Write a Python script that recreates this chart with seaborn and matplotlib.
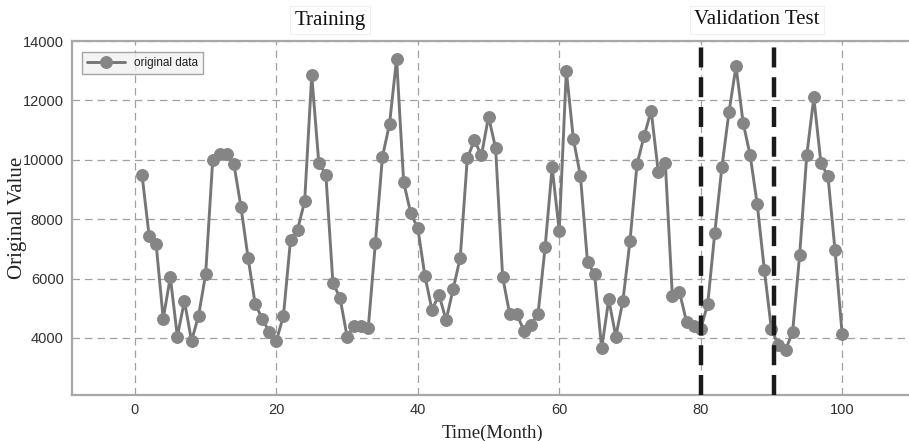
import matplotlib
matplotlib.use("Agg")
import matplotlib.pyplot as plt
import seaborn as sns
import pandas as pd

months = list(range(1, 101))
values = [9500, 7450, 7150, 4650, 6050, 4050, 5250, 3900, 4750, 6150,
          10000, 10200, 10200, 9850, 8400, 6700, 5150, 4650, 4200, 3900,
          4750, 7300, 7650, 8600, 12850, 9900, 9500, 5850, 5350, 4050,
          4400, 4400, 4350, 7200, 10100, 11200, 13400, 9250, 8200, 7700,
          6100, 4950, 5450, 4600, 5650, 6700, 10050, 10650, 10150, 11450,
          10400, 6050, 4800, 4800, 4250, 4450, 4800, 7050, 9750, 7600,
          13000, 10700, 9450, 6550, 6150, 3650, 5300, 4050, 5250, 7250,
          9850, 10800, 11650, 9600, 9900, 5400, 5550, 4550, 4400, 4300,
          5150, 7550, 9750, 11600, 13150, 11250, 10150, 8500, 6300, 4300,
          3750, 3600, 4200, 6800, 10150, 12100, 9900, 9450, 6950, 4150]
split_lines = [80, 90.3]
x_ticks = [0, 20, 40, 60, 80, 100]
y_ticks = [4000, 6000, 8000, 10000, 12000, 14000]

df = pd.DataFrame({"month": months, "value": values})

sns.set_style("white")
fig = plt.figure(figsize=(9.09, 4.41), dpi=100)
ax = fig.add_axes([0.0792, 0.1043, 0.925, 0.8027])

sns.lineplot(data=df, x="month", y="value", ax=ax, color="#767676",
             linewidth=2.1, marker="o", markersize=8.5,
             markerfacecolor="#858585", markeredgecolor="#858585",
             label="original data")

for xv in split_lines:
    ax.axvline(xv, color="#1a1a1a", linestyle=(0, (4.5, 2.2)), linewidth=3.2, zorder=5)

ax.set_xlim(-8.9, 110)
ax.set_ylim(2080, 14000)
ax.set_xticks(x_ticks)
ax.set_yticks(y_ticks)
ax.grid(True, color="#a0a0a0", linestyle=(0, (6, 4)), linewidth=0.9)
for s in ax.spines.values():
    s.set_color("#a8a8a8")
    s.set_linewidth(1.6)
ax.tick_params(axis="both", labelsize=10.5, colors="#303030", length=0, pad=6)
for lab in ax.get_xticklabels() + ax.get_yticklabels():
    lab.set_fontfamily("Liberation Sans")

ax.set_xlabel("Time(Month)", fontsize=13.5, fontfamily="Liberation Serif",
              color="#222222", labelpad=5)
ax.set_ylabel("Original Value", fontsize=15, fontfamily="Liberation Serif",
              color="#222222")
ax.yaxis.set_label_coords(-0.053, 0.5)

txt_box = dict(facecolor="white", edgecolor="#f0f0f0", linewidth=0.8, pad=3)
fig.text(330 / 909, 1 - 20 / 441, "Training", fontsize=15,
         fontfamily="Liberation Serif", ha="center", va="center", color="#111111",
         bbox=txt_box)
fig.text(757 / 909, 1 - 20 / 441, "Validation Test", fontsize=15,
         fontfamily="Liberation Serif", ha="center", va="center", color="#111111",
         bbox=txt_box)

leg = ax.legend(loc="upper left", fontsize=8.5, frameon=True, fancybox=False,
                borderpad=0.4, handlelength=3.2, bbox_to_anchor=(0.005, 0.985))
leg.get_frame().set_edgecolor("#909090")
leg.get_frame().set_facecolor("#f2f2f2")
leg.get_frame().set_linewidth(1.0)
for t in leg.get_texts():
    t.set_fontfamily("Liberation Sans")
    t.set_color("#202020")

fig.savefig("out.png", dpi=100)
